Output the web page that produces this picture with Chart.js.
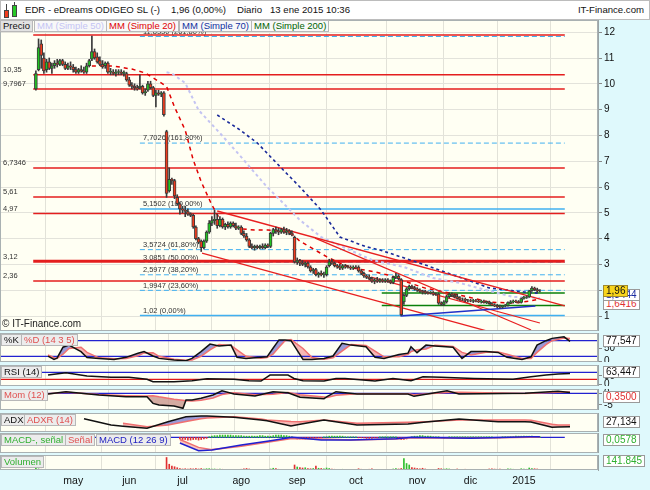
<!DOCTYPE html>
<html lang="es">
<head>
<meta charset="utf-8">
<title>EDR - eDreams ODIGEO SL</title>
<script src="https://cdn.jsdelivr.net/npm/chart.js@4.4.1/dist/chart.umd.min.js"></script>
<style>
  body { margin: 0; }
  #wrap { position: relative; width: 650px; height: 490px; overflow: hidden; background: #dff9fc; font-family: "Liberation Sans", Arial, sans-serif; }
  #wrap canvas { position: absolute; left: 0; }
  #hd { position: absolute; left: 0; top: 0; width: 648px; height: 18px; background: #fff; border: 1px solid #bcbcbc; font-size: 9.6px; color: #111; }
  #hd span { position: absolute; top: 3px; line-height: 12px; white-space: nowrap; }
  .ic { position: absolute; border: 1px solid #444; }
  .tag { position: absolute; z-index: 2; height: 10px; line-height: 10px; padding: 0 2px; font-size: 9.5px; background: #ececec; border: 1px solid #b8b8b8; white-space: nowrap; }
  .val { position: absolute; z-index: 2; left: 603px; height: 10px; line-height: 10px; padding: 0 2px; font-size: 10px; background: #fff; border: 1px solid #9a9a9a; color: #111; white-space: nowrap; }
  .note { position: absolute; z-index: 2; font-size: 10px; color: #222; white-space: nowrap; }
</style>
</head>
<body>
<div id="wrap">
  <div id="hd">
    <div class="ic" style="left:5px;top:3px;width:0;height:13px;border-width:0 0 0 1px"></div>
    <div class="ic" style="left:3px;top:9px;width:3px;height:6px;background:#f03c1e"></div>
    <div class="ic" style="left:13px;top:1px;width:0;height:15px;border-width:0 0 0 1px"></div>
    <div class="ic" style="left:11px;top:4px;width:3px;height:10px;background:#28c828"></div>
    <span style="left:24px">EDR - eDreams ODIGEO SL (-)</span>
    <span style="left:170px">1,96 (0,00%)</span>
    <span style="left:236px">Diario</span>
    <span style="left:269px">13 ene 2015 10:36</span>
    <span style="right:5px">IT-Finance.com</span>
  </div>

  <div class="tag" style="left:0;top:20px;color:#111;background:#e2e2e2">Precio</div>
  <div class="tag" style="left:34px;top:20px;color:#c4c4f4;background:#f8f8f8">MM (Simple 50)</div>
  <div class="tag" style="left:106px;top:20px;color:#e00000;background:#f8f8f8">MM (Simple 20)</div>
  <div class="tag" style="left:179px;top:20px;color:#1030a0;background:#f8f8f8">MM (Simple 70)</div>
  <div class="tag" style="left:251px;top:20px;color:#006400;background:#f8f8f8">MM (Simple 200)</div>
  <div class="note" style="left:2px;top:318px">© IT-Finance.com</div>

  <div class="tag" style="left:1px;top:334px;color:#111">%K</div>
  <div class="tag" style="left:21px;top:334px;color:#e05050">%D (14 3 5)</div>
  <div class="tag" style="left:1px;top:366px;color:#111">RSI (14)</div>
  <div class="tag" style="left:1px;top:389px;color:#e05050">Mom (12)</div>
  <div class="tag" style="left:1px;top:414px;color:#111">ADX</div>
  <div class="tag" style="left:24px;top:414px;color:#e05050">ADXR (14)</div>
  <div class="tag" style="left:1px;top:434px;color:#30b030">MACD-, señal</div>
  <div class="tag" style="left:65px;top:434px;color:#e05050">Señal</div>
  <div class="tag" style="left:96px;top:434px;color:#2020c0">MACD (12 26 9)</div>
  <div class="tag" style="left:1px;top:456px;color:#30b030">Volumen</div>

  <div class="val" style="top:298px;color:#e03030">1,6416</div>
  <div class="val" style="top:289px;color:#1a2aa0">1,8444</div>
  <div class="val" style="top:285px;background:#f8d41c;border-color:#a08a30">1,96</div>
  <div class="val" style="top:335px">77,547</div>
  <div class="val" style="top:366px">63,447</div>
  <div class="val" style="top:391px;color:#e03030">0,3500</div>
  <div class="val" style="top:416px">27,134</div>
  <div class="val" style="top:434px;color:#30b030">0,0578</div>
  <div class="val" style="top:455px;color:#30b030">141.845</div>
</div>

<script>
// trading days are counted from the IPO (day 0 = 8 abr 2014)
const months = ['may', 'jun', 'jul', 'ago', 'sep', 'oct', 'nov', 'dic', '2015'];
const monthDay = [14, 35, 55, 77, 98, 120, 143, 163, 183];
const lastDay = 198.33;
const priceTicks = [1, 2, 3, 4, 5, 6, 7, 8, 9, 10, 11, 12];

const open = [
  9.80, 10.55, 11.55, 11.00, 10.55, 10.85, 10.60, 10.70, 10.80, 10.75,
  10.90, 10.75, 10.60, 10.70, 10.65, 10.55, 10.45, 10.55, 10.50, 10.45,
  10.70, 10.95, 11.25, 11.05, 10.90, 10.75, 10.70, 10.80, 10.45, 10.45,
  10.40, 10.45, 10.45, 10.40, 10.40, 10.15, 9.95, 9.90, 9.85, 9.85,
  9.90, 9.65, 9.75, 10.00, 9.85, 9.55, 9.65, 9.60, 9.65, 8.15,
  5.85, 6.30, 6.25, 5.60, 5.35, 5.15, 5.10, 5.05, 4.95, 4.90,
  4.45, 4.00, 3.90, 3.65, 3.90, 4.25, 4.60, 4.70, 4.75, 4.50,
  4.75, 4.45, 4.55, 4.45, 4.60, 4.50, 4.40, 4.45, 4.20, 4.10,
  3.95, 3.70, 3.65, 3.70, 3.65, 3.70, 3.65, 3.75, 3.70, 4.20,
  4.35, 4.30, 4.25, 4.35, 4.25, 4.30, 4.20, 4.05, 3.10, 3.15,
  3.05, 3.00, 3.05, 2.90, 2.75, 2.80, 2.60, 2.65, 2.60, 2.60,
  2.95, 3.10, 3.05, 2.95, 2.90, 2.85, 2.95, 2.90, 2.90, 2.85,
  2.90, 2.90, 2.75, 2.65, 2.55, 2.50, 2.45, 2.35, 2.40, 2.35,
  2.40, 2.35, 2.40, 2.35, 2.30, 2.50, 2.55, 2.40, 1.55, 1.80,
  2.05, 2.15, 2.10, 2.05, 2.00, 1.95, 1.95, 1.90, 1.90, 1.90,
  1.85, 1.85, 1.50, 1.45, 1.55, 1.75, 1.85, 1.80, 1.75, 1.70,
  1.65, 1.65, 1.60, 1.60, 1.58, 1.60, 1.57, 1.55, 1.58, 1.52,
  1.55, 1.48, 1.42, 1.40, 1.36, 1.34, 1.38, 1.40, 1.52, 1.55,
  1.58, 1.55, 1.53, 1.68, 1.72, 1.74, 1.98, 2.08, 2.02, 1.96
];
const high = [
  10.50, 11.74, 11.70, 11.20, 10.95, 11.00, 10.80, 10.90, 10.95, 10.95,
  10.95, 10.85, 10.80, 10.85, 10.75, 10.65, 10.60, 10.70, 10.65, 10.80,
  10.95, 11.85, 11.35, 11.20, 11.05, 10.90, 10.85, 10.85, 10.60, 10.55,
  10.55, 10.55, 10.55, 10.50, 10.45, 10.25, 10.05, 10.00, 9.95, 10.35,
  9.95, 9.80, 10.10, 10.10, 9.90, 9.75, 9.75, 9.70, 9.70, 8.20,
  6.74, 6.35, 6.30, 5.70, 5.40, 5.25, 5.25, 5.15, 5.00, 4.95,
  4.50, 4.05, 3.95, 3.95, 4.30, 4.70, 4.85, 5.10, 4.95, 4.85,
  4.80, 4.60, 4.65, 4.65, 4.65, 4.60, 4.50, 4.50, 4.30, 4.20,
  4.00, 3.80, 3.75, 3.75, 3.75, 3.80, 3.80, 3.80, 4.25, 4.40,
  4.45, 4.40, 4.40, 4.45, 4.40, 4.35, 4.30, 4.10, 3.25, 3.20,
  3.15, 3.10, 3.10, 2.95, 2.85, 2.85, 2.70, 2.75, 2.70, 2.95,
  3.20, 3.20, 3.10, 3.00, 3.00, 3.00, 3.00, 2.95, 2.95, 2.95,
  2.95, 2.95, 2.80, 2.70, 2.60, 2.60, 2.50, 2.45, 2.50, 2.45,
  2.45, 2.45, 2.45, 2.40, 2.55, 2.65, 2.60, 2.45, 1.85, 2.10,
  2.20, 2.20, 2.15, 2.10, 2.05, 2.00, 2.00, 1.95, 1.95, 1.95,
  1.90, 1.90, 1.55, 1.60, 1.80, 1.90, 1.90, 1.85, 1.85, 1.75,
  1.70, 1.70, 1.65, 1.65, 1.65, 1.65, 1.62, 1.62, 1.62, 1.58,
  1.58, 1.52, 1.48, 1.45, 1.42, 1.40, 1.45, 1.55, 1.60, 1.62,
  1.62, 1.60, 1.70, 1.76, 1.78, 2.00, 2.14, 2.12, 2.08, 2.02
];
const low = [
  9.75, 10.50, 10.60, 10.40, 10.45, 10.55, 10.40, 10.60, 10.65, 10.70,
  10.70, 10.55, 10.55, 10.55, 10.45, 10.40, 10.40, 10.45, 10.40, 10.40,
  10.65, 10.90, 10.95, 10.80, 10.70, 10.60, 10.60, 10.40, 10.35, 10.35,
  10.30, 10.35, 10.35, 10.30, 10.10, 9.90, 9.80, 9.75, 9.75, 9.80,
  9.60, 9.55, 9.70, 9.80, 9.50, 9.10, 9.55, 9.50, 8.75, 5.60,
  5.80, 6.10, 5.55, 5.30, 4.95, 5.00, 4.85, 4.90, 4.85, 4.40,
  3.95, 3.80, 3.50, 3.60, 3.85, 4.20, 4.50, 4.55, 4.40, 4.45,
  4.40, 4.35, 4.40, 4.40, 4.45, 4.35, 4.35, 4.15, 4.05, 3.90,
  3.65, 3.60, 3.55, 3.60, 3.60, 3.60, 3.60, 3.65, 3.65, 4.10,
  4.20, 4.15, 4.20, 4.20, 4.15, 4.15, 4.10, 3.05, 3.00, 2.95,
  2.95, 2.90, 2.85, 2.70, 2.65, 2.55, 2.50, 2.55, 2.50, 2.55,
  2.90, 3.00, 2.90, 2.85, 2.80, 2.80, 2.85, 2.85, 2.80, 2.80,
  2.85, 2.70, 2.60, 2.50, 2.45, 2.40, 2.30, 2.25, 2.30, 2.30,
  2.30, 2.30, 2.30, 2.25, 2.25, 2.45, 2.40, 1.02, 1.45, 1.75,
  2.00, 2.05, 2.00, 1.95, 1.90, 1.85, 1.85, 1.85, 1.85, 1.80,
  1.80, 1.45, 1.40, 1.40, 1.50, 1.70, 1.75, 1.70, 1.65, 1.60,
  1.60, 1.55, 1.55, 1.55, 1.52, 1.55, 1.52, 1.50, 1.50, 1.48,
  1.45, 1.40, 1.36, 1.32, 1.30, 1.31, 1.35, 1.38, 1.48, 1.50,
  1.52, 1.50, 1.50, 1.65, 1.68, 1.72, 1.95, 1.98, 1.92, 1.93
];
const close = [
  10.40, 11.40, 11.10, 10.50, 10.85, 10.60, 10.70, 10.80, 10.75, 10.90,
  10.75, 10.60, 10.70, 10.65, 10.55, 10.45, 10.55, 10.50, 10.45, 10.70,
  10.90, 11.25, 11.00, 10.85, 10.75, 10.65, 10.80, 10.45, 10.48, 10.40,
  10.45, 10.47, 10.40, 10.45, 10.15, 9.95, 9.90, 9.85, 9.80, 9.90,
  9.65, 9.70, 10.00, 9.85, 9.55, 9.65, 9.60, 9.65, 8.80, 5.75,
  6.30, 6.25, 5.65, 5.35, 5.15, 5.10, 5.05, 4.95, 4.90, 4.45,
  4.00, 3.85, 3.65, 3.90, 4.25, 4.60, 4.70, 4.75, 4.50, 4.75,
  4.45, 4.55, 4.45, 4.60, 4.50, 4.40, 4.45, 4.20, 4.10, 3.95,
  3.70, 3.65, 3.70, 3.65, 3.70, 3.65, 3.75, 3.70, 4.20, 4.35,
  4.30, 4.25, 4.35, 4.25, 4.30, 4.20, 4.15, 3.10, 3.15, 3.05,
  3.00, 3.05, 2.90, 2.75, 2.80, 2.60, 2.65, 2.60, 2.62, 2.90,
  3.10, 3.05, 2.95, 2.90, 2.85, 2.95, 2.90, 2.88, 2.85, 2.90,
  2.88, 2.75, 2.65, 2.55, 2.50, 2.45, 2.35, 2.40, 2.35, 2.40,
  2.35, 2.40, 2.35, 2.30, 2.50, 2.55, 2.45, 1.05, 1.80, 2.05,
  2.15, 2.10, 2.05, 2.00, 1.95, 1.92, 1.90, 1.88, 1.92, 1.85,
  1.85, 1.50, 1.45, 1.55, 1.75, 1.85, 1.80, 1.75, 1.70, 1.65,
  1.65, 1.60, 1.60, 1.58, 1.60, 1.57, 1.55, 1.58, 1.52, 1.55,
  1.48, 1.42, 1.40, 1.36, 1.34, 1.38, 1.40, 1.52, 1.55, 1.58,
  1.55, 1.53, 1.68, 1.72, 1.74, 1.98, 2.08, 2.02, 1.96, 1.96
];
// volume in thousands of shares
const volume = [
  320, 220, 150, 120, 110, 100, 90, 90, 80, 90,
  80, 70, 70, 80, 90, 70, 60, 70, 60, 80,
  90, 150, 100, 80, 70, 70, 60, 70, 60, 60,
  60, 60, 60, 70, 80, 90, 70, 60, 60, 80,
  70, 60, 70, 60, 80, 100, 70, 60, 150, 2500,
  1150, 800, 650, 450, 300, 200, 250, 180, 260, 220,
  300, 200, 280, 200, 250, 260, 180, 200, 150, 160,
  150, 120, 100, 120, 100, 90, 100, 150, 250, 300,
  200, 120, 100, 90, 100, 90, 110, 90, 200, 350,
  300, 150, 120, 100, 110, 90, 120, 1000, 600, 500,
  400, 450, 300, 250, 300, 800, 350, 300, 250, 400,
  300, 200, 150, 120, 100, 150, 100, 90, 100, 90,
  100, 250, 150, 120, 100, 150, 250, 100, 90, 100,
  90, 100, 90, 100, 200, 300, 200, 300, 2300, 1300,
  1000, 500, 400, 300, 250, 350, 200, 150, 120, 100,
  100, 300, 250, 200, 250, 200, 150, 120, 200, 150,
  120, 150, 120, 100, 90, 100, 90, 100, 90, 100,
  200, 250, 180, 150, 200, 120, 100, 250, 200, 150,
  120, 100, 250, 200, 150, 400, 300, 250, 200, 142
];
const volRedDays = [49, 50, 51, 52, 53, 54];

const redLevels = [11.89, 10.35, 9.7967, 6.7346, 5.61, 4.97, 3.12, 2.36];
const redLabels = ['', '10,35', '9,7967', '6,7346', '5,61', '4,97', '3,12', '2,36'];
const fibLevels = [11.833, 7.7026, 5.1502, 3.5724, 3.0851, 2.5977, 1.9947, 1.02];
const fibLabels = ['11,8330 (261,80%)', '7,7026 (161,80%)', '5,1502 (100,00%)', '3,5724 (61,80%)',
  '3,0851 (50,00%)', '2,5977 (38,20%)', '1,9947 (23,60%)', '1,02 (0,00%)'];
const fibStart = 39;
const greenLevels = [1.89, 1.41];
const greenStart = 129.7;

const mm20Day = [21, 29, 36, 41, 46, 49, 52, 56, 59, 62, 66, 69, 72, 77, 82, 87, 92, 96, 99, 104,
  109, 114, 119, 127, 132, 139, 146, 155, 162, 170, 179, 185, 189];
const mm20 = [10.69, 10.69, 10.57, 10.42, 10.1, 9.9, 9.1, 8.2, 7.05, 6.2, 5.3, 4.75, 4.55, 4.38, 4.33, 4.33, 4.3, 4.18, 3.9, 3.6,
  3.3, 3.05, 2.86, 2.71, 2.59, 2.32, 2.08, 1.89, 1.74, 1.54, 1.5, 1.58, 1.66];
const mm50Day = [49, 51, 56, 61, 69, 77, 86, 99, 107, 116, 126, 138, 149, 159, 169, 179, 189];
const mm50 = [10.45, 10.4, 10.03, 8.98, 8.09, 7.16, 6.08, 4.72, 4.06, 3.64, 3.17, 2.9, 2.47, 2.28, 2.0, 1.74, 1.70];
const mm70Day = [68, 76, 83, 92, 99, 107, 114, 124, 129, 146, 170, 183, 189];
const mm70 = [8.79, 8.25, 7.71, 6.74, 6.0, 5.1, 4.06, 3.68, 3.56, 2.98, 2.09, 1.93, 1.88];

const upperDay = [68, 198.33], upperVal = [5.07, 1.39];
const lowerDay = [62.3, 172.3], lowerVal = [3.44, 0.33];
const midDay = [125.7, 189], midVal = [2.51, 0.73];
const steepDay = [104.7, 185.7], steepVal = [4.02, 0.46];
const supportDay = [136.7, 187.3], supportVal = [1.0, 1.39];

const stochDay = [15, 17, 18, 20, 22, 26, 28, 32, 37, 41, 45, 47, 50, 52, 57, 61, 63, 66, 69, 72,
  76, 78, 81, 86, 88, 90, 92, 94, 96, 100, 103, 107, 110, 113, 116, 121, 124, 127, 132, 135,
  136, 138, 141, 144, 150, 153, 156, 161, 165, 168, 173, 176, 178, 181, 183, 187, 189];
const stochK = [21, 8, 13, 55, 63, 38, 15, 12, 8, 16, 32, 38, 21, 12, 6, 3, 12, 38, 67, 60,
  63, 16, 12, 16, 18, 51, 83, 83, 80, 8, 8, 12, 21, 70, 63, 57, 16, 12, 27, 32,
  57, 34, 63, 60, 55, 12, 38, 38, 35, 16, 8, 18, 63, 80, 89, 95, 77.547];
const stochD = [25, 15, 12, 28, 50, 55, 35, 14, 11, 12, 22, 33, 34, 20, 9, 5, 6, 20, 45, 65,
  62, 45, 20, 13, 15, 28, 55, 80, 84, 50, 15, 9, 14, 40, 65, 62, 40, 18, 18, 28,
  38, 45, 48, 62, 58, 35, 25, 36, 37, 28, 12, 12, 35, 65, 80, 90, 88];

const rsiDay = [15, 21, 28, 36, 42, 48, 50, 57, 63, 68, 77, 82, 86, 89, 95, 97, 100, 107, 111, 114,
  124, 130, 136, 140, 146, 157, 170, 176, 181, 185, 189];
const rsi = [54, 67, 49, 41, 41, 30, 16, 16, 22, 33, 30, 22, 20, 54, 54, 35, 22, 20, 35, 35,
  20, 35, 22, 45, 41, 35, 30, 45, 54, 60, 63.447];

const momDay = [15, 21, 32, 41, 48, 50, 52, 57, 60, 61, 63, 66, 70, 73, 77, 84, 90, 95, 99, 107,
  108, 111, 118, 135, 137, 148, 152, 174, 185, 189];
const mom = [-0.3, 0.7, -0.73, -1.45, -1.45, -4.3, -5.0, -5.4, -6.4, -2.9, -2.9, -2.1, -0.7, 1.1, -0.3, -1.15, 0.7, 0.26, -1.7, -2.3,
  -1.45, 0.7, -0.3, -0.3, -1.3, 1.1, -0.3, 0, 0.9, 0.35];
const momSignal = [-0.2, 0.5, -0.5, -1.0, -1.2, -1.0, -1.5, -2.5, -3.0, -3.2, -3.3, -3.0, -2.0, -0.5, 0.2, -0.6, -0.4, 0.3, -0.6, -1.6,
  -1.8, -0.8, -0.2, -0.2, -0.6, 0.3, 0.4, -0.1, 0.4, 0.6];

const adxDay = [27, 36, 40, 48, 55, 61, 66, 68, 77, 86, 88, 96, 99, 107, 118, 135, 141, 152, 165, 174, 176, 183, 185, 189];
const adx = [47, 31, 28, 23, 39.5, 52, 54, 54, 50.5, 44, 42, 29, 33, 44, 31, 34, 39, 46, 39.5, 39.5, 39, 25.5, 26, 27.134];
const adxr = [null, null, 35.5, 27, 31, 40, 47, 49, 52, 46, 44, 40, 39.5, 44, 35.5, 38, 39.5, 44, 44, 44, 43, 33, 31, 31];

const macdDay = [54, 61, 66, 77, 88, 96, 107, 118, 135, 141, 163, 185, 189];
const macd = [-0.51, -1.20, -1.13, -0.69, -0.30, 0, -0.24, -0.24, -0.12, 0, -0.09, 0.05, 0.0578];
const macdSignal = [-0.2, -0.9, -1.1, -0.8, -0.4, -0.1, -0.15, -0.25, -0.15, -0.05, -0.08, 0.0, 0.03];
const histStart = 54;
const macdHist = [
  -0.15, -0.2, -0.2, -0.25, -0.25, -0.2, -0.2, -0.25, -0.2, -0.15, -0.1,
  0.05, 0.1, 0.15, 0.15, 0.2, 0.2, 0.2, 0.2, 0.2, 0.15, 0.15, 0.15, 0.15, 0.1, 0.1, 0.1,
  0.1, 0.1, 0.1, 0.15, 0.15, 0.1, 0.1, 0.1, 0.15, 0.2, 0.2, 0.2, 0.15, 0.15, 0.1,
  0.05, -0.1, -0.15, -0.15, -0.15, -0.15, -0.1, -0.1, -0.1, -0.1, -0.05, -0.05, 0.05, 0.05,
  0.1, 0.1, 0.1, 0.1, 0.1, 0.1, 0.05, 0.05, 0.05, 0.05, 0.05, -0.05, -0.05, -0.05,
  -0.1, -0.1, -0.1, -0.05, -0.05, 0.05, 0.05, 0.05, 0.05, 0.05, 0.05,
  0.05, -0.1, -0.2, -0.2, -0.15, -0.05, 0.05,
  0.1, 0.1, 0.15, 0.15, 0.1, 0.1, 0.1, 0.05, 0.05, 0.05, -0.05, -0.1, -0.05, 0.05, 0.05, 0.05,
  0.05, 0.05, 0.05, 0.05, 0.05, 0.05, 0.05, 0.05, 0.05, 0.05, 0.05, 0.05, 0.05, 0.05, -0.05, -0.05,
  -0.05, 0.05, 0.05, 0.05, 0.05, 0.05, 0.1, 0.1, 0.1, 0.1, 0.1, 0.1, 0.1, 0.05, 0.05, 0.05
];

const UP = '#22c422', DOWN = '#f03c1e';
Chart.defaults.font.family = '"Liberation Sans", Arial, sans-serif';
Chart.defaults.color = '#111';

const frame = {
  id: 'frame',
  beforeDraw(c) {
    const a = c.chartArea, x = c.ctx;
    x.save();
    x.fillStyle = '#fffff3';
    x.fillRect(a.left, a.top, a.right - a.left, a.bottom - a.top);
    x.restore();
  },
  afterDraw(c) {
    const a = c.chartArea, x = c.ctx;
    x.save();
    x.strokeStyle = '#a9b1b2';
    x.lineWidth = 1;
    x.strokeRect(a.left + 0.5, a.top + 0.5, a.right - a.left - 1, a.bottom - a.top - 1);
    x.restore();
  }
};

// level captions sit just above their line, under the candles
const levelText = {
  id: 'levelText',
  beforeDatasetsDraw(c) {
    const x = c.ctx, ys = c.scales.y, xs = c.scales.x;
    x.save();
    x.font = '7.5px "Liberation Sans", Arial, sans-serif';
    x.fillStyle = '#333';
    x.textBaseline = 'bottom';
    redLevels.forEach((v, k) => {
      if (redLabels[k]) x.fillText(redLabels[k], c.chartArea.left + 3, ys.getPixelForValue(v) - 1);
    });
    fibLevels.forEach((v, k) => {
      x.fillText(fibLabels[k], xs.getPixelForValue(fibStart) + 3, ys.getPixelForValue(v) - 1);
    });
    x.restore();
  }
};

function line(days, vals, color, width, dash, order, extra) {
  return Object.assign({
    type: 'line',
    data: days.map((d, k) => ({ x: d, y: vals[k] })),
    borderColor: color, borderWidth: width, borderDash: dash || [],
    pointRadius: 0, tension: 0, fill: false, order: order
  }, extra || {});
}
function level(v, from, color, width, dash, order) {
  return line([from, lastDay], [v, v], color, width, dash, order);
}

function options(min, max, ticks, grid, xAxis) {
  return {
    responsive: false, animation: false, devicePixelRatio: 1, events: [],
    layout: { padding: 0 },
    plugins: { legend: { display: false }, tooltip: { enabled: false }, filler: { drawTime: 'beforeDatasetsDraw' } },
    scales: {
      x: {
        type: 'linear', min: -1, max: lastDay,
        afterBuildTicks: a => { a.ticks = monthDay.map(v => ({ value: v })); },
        afterFit: a => { a.height = xAxis ? 20 : 0; a.paddingLeft = 0; a.paddingRight = 0; },
        grid: { color: '#e2e2d8', drawTicks: false },
        border: { display: false },
        ticks: { display: xAxis, autoSkip: false, maxRotation: 0, padding: 5, color: '#111',
          font: { size: 10.5 }, callback: (v, i) => months[i] }
      },
      y: {
        position: 'right', min: min, max: max,
        afterBuildTicks: a => { a.ticks = ticks.map(v => ({ value: v })); },
        afterFit: a => { a.width = 52; a.paddingTop = 0; a.paddingBottom = 0; },
        grid: { drawOnChartArea: grid, color: '#e3e3db', tickLength: 4, tickColor: '#888' },
        border: { color: '#9aa4a6' },
        ticks: { autoSkip: false, padding: 2, color: '#111', font: { size: 10 },
          callback: v => String(v).replace('.', ',') }
      }
    }
  };
}

function panel(top, height, datasets, opts, plugins) {
  const cv = document.createElement('canvas');
  cv.width = 650;
  cv.height = height;
  cv.style.top = top + 'px';
  document.getElementById('wrap').appendChild(cv);
  return new Chart(cv, { type: 'line', data: { datasets: datasets }, options: opts, plugins: [frame].concat(plugins || []) });
}

// price panel
const priceSets = [
  {
    type: 'bar', order: 0, grouped: false, barThickness: 3,
    data: open.map((o, i) => ({ x: i, y: [o, close[i]] })),
    backgroundColor: open.map((o, i) => close[i] >= o ? UP : DOWN),
    borderColor: '#3a3a3a', borderWidth: 1, borderSkipped: false
  },
  {
    type: 'bar', order: 1, grouped: false, barThickness: 1,
    data: high.map((h, i) => ({ x: i, y: [low[i], h] })),
    backgroundColor: '#3a3a3a'
  },
  line(supportDay, supportVal, '#2030c8', 1.5, null, 2),
  line(upperDay, upperVal, '#e82020', 1.3, null, 2),
  line(lowerDay, lowerVal, '#e82020', 1.3, null, 2),
  line(midDay, midVal, '#e82020', 1.2, null, 2),
  line(steepDay, steepVal, '#e82020', 1.2, null, 2),
  line(mm20Day, mm20, '#e00000', 1.5, [4, 4], 3),
  line(mm70Day, mm70, '#1a2a9a', 1.6, [3, 3], 3),
  line(mm50Day, mm50, '#c4c4f2', 2, [3, 3], 4)
];
greenLevels.forEach(v => priceSets.push(level(v, greenStart, '#0a800a', 1.5, null, 5)));
redLevels.forEach(v => priceSets.push(level(v, -1, '#e41e1e', v === 3.12 ? 3 : 1.5, null, 6)));
fibLevels.forEach((v, k) => {
  const solid = k === 2 || k === 7;
  priceSets.push(level(v, fibStart, '#40b0f0', solid ? 1.5 : 1, solid ? null : [5, 3], 7));
});
panel(20, 311, priceSets, options(0.419, 12.473, priceTicks, true, false), [levelText]);

// stochastic
panel(333, 29, [
  line(stochDay, stochK, '#111', 1.5, null, 0,
    { fill: { target: '+1', above: 'rgba(120,120,205,0.75)', below: 'rgba(244,160,160,0.75)' } }),
  line(stochDay, stochD, '#f07070', 1.5, null, 1),
  level(80, -1, '#2222d0', 1.2, null, 2),
  level(20, -1, '#2222d0', 1.2, null, 2)
], options(-1.9, 109.6, [0, 50], false, false));

// RSI
panel(365, 21, [
  line(rsiDay, rsi, '#111', 1.5, null, 0),
  level(70, -1, '#2222d0', 1.2, null, 1),
  level(30, -1, '#e01818', 1.2, null, 1)
], options(-8.3, 111.7, [0, 50], false, false));

// momentum
panel(389, 21, [
  line(momDay, mom, '#111', 1.5, null, 0,
    { fill: { target: '+1', above: 'rgba(150,150,215,0.6)', below: 'rgba(200,150,140,0.8)' } }),
  line(momDay, momSignal, '#f07070', 1.5, null, 1),
  level(0, -1, '#2222d0', 1.2, null, 2)
], options(-7.14, 1.84, [-5, 0], false, false));

// ADX / ADXR
panel(413, 19, [
  line(adxDay, adx, '#111', 1.5, null, 0,
    { fill: { target: '+1', above: 'rgba(120,120,205,0.75)', below: 'rgba(244,160,160,0.75)' } }),
  line(adxDay, adxr, '#f07070', 1.5, null, 1)
], options(13.75, 61.25, [], false, false));

// MACD
panel(433, 20, [
  line(macdDay, macd, '#2020d0', 1.5, null, 0,
    { fill: { target: '+1', above: 'rgba(120,120,205,0.5)', below: 'rgba(244,160,160,0.6)' } }),
  line(macdDay, macdSignal, '#f07070', 1.5, null, 1),
  {
    type: 'bar', order: 2, grouped: false, barThickness: 1,
    data: macdHist.map((v, k) => ({ x: histStart + k, y: v })),
    backgroundColor: macdHist.map(v => v >= 0 ? '#30c030' : '#e03030')
  },
  level(0, -1, '#2222d0', 1.2, null, 3)
], options(-1.402, 0.384, [], false, false));

// volume with the month axis
panel(455, 35, [
  {
    type: 'bar', order: 0, grouped: false, barThickness: 1,
    data: volume.map((v, i) => ({ x: i, y: v })),
    backgroundColor: volume.map((v, i) => volRedDays.includes(i) || close[i] < open[i] ? '#e03030' : '#30c030')
  }
], options(0, 3000, [], false, true));
</script>
</body>
</html>
